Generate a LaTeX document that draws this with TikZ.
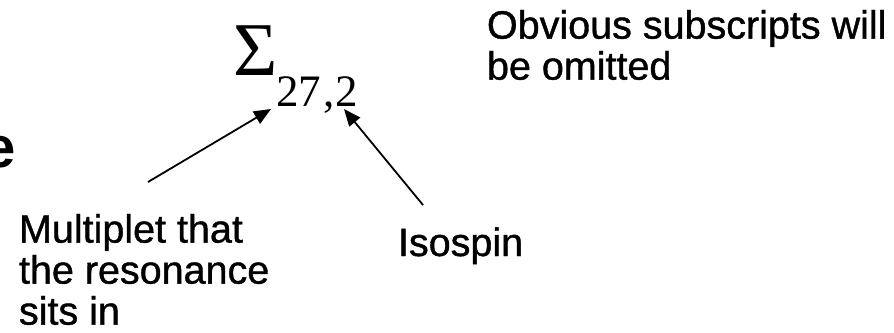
\documentclass[tikz,border=0pt]{standalone}
\usepackage{fontspec}
\setmainfont{Liberation Sans}
\newfontfamily\heavysans{Liberation Sans}[FakeBold=1.0]
\newfontfamily\serifgreek{Liberation Serif}
\usetikzlibrary{arrows.meta}
\begin{document}
\begin{tikzpicture}[x=1pt,y=-1pt,
  lbltext/.style={inner sep=0pt, outer sep=0pt, font=\heavysans\fontsize{39.5}{41}\selectfont, align=left},
  pointer/.style={line width=1.8pt, -{Triangle[length=17pt,width=14pt]}}]
\useasboundingbox (0,0) rectangle (894,332);
\clip (0,0) rectangle (894,332);
% tail end of the slide title, cut by the frame
\node[inner sep=0pt, anchor=base west, font=\fontsize{58}{64}\selectfont\bfseries] (title) at (-17,167) {e};
% the resonance symbol with its two subscripts
\node[inner sep=0pt, anchor=base west, font=\serifgreek\fontsize{76}{84}\selectfont] (sigma) at (233,75) {Σ};
\node[inner sep=0pt, anchor=base west, font=\serifgreek\fontsize{45}{52}\selectfont] (sub) at (276,106) {27\hspace{2pt},\hspace{1.5pt}2};
% explanatory labels
\node[lbltext, anchor=north west] (note) at (487,10) {Obvious subscripts will\\be omitted};
\node[lbltext, anchor=north west] (mult) at (19,214) {Multiplet that\\the resonance\\sits in};
\node[lbltext, anchor=base west] (iso) at (398,256) {Isospin};
% pointers from the labels to the subscripts
\coordinate (multtail) at (148,182);
\coordinate (multtip) at (271,109);
\coordinate (isotail) at (423,205);
\coordinate (isotip) at (344,109);
\draw[pointer] (multtail) -- (multtip);
\draw[pointer] (isotail) -- (isotip);
\end{tikzpicture}
\end{document}
